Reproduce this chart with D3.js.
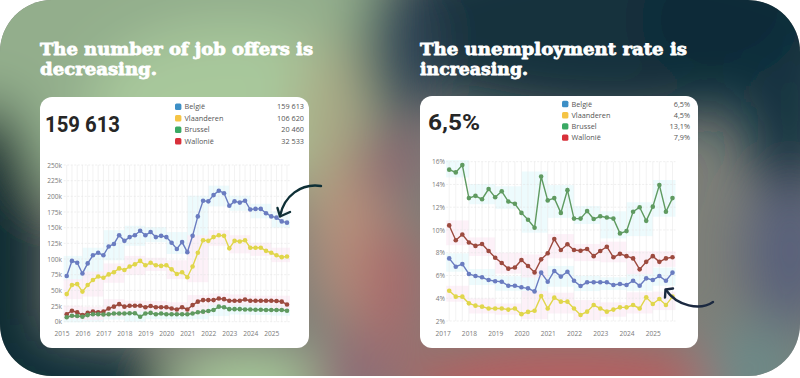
<!DOCTYPE html>
<html><head><meta charset="utf-8">
<script src="https://cdn.jsdelivr.net/npm/d3@7"></script>
<style>html,body{margin:0;padding:0;background:#fff;overflow:hidden}svg{display:block}</style>
</head><body>
<svg id="c" width="800" height="378"></svg>
<script>
// ---------- DATA ----------
const jobQuarters = ["2015Q2","2015Q3","2015Q4","2016Q1","2016Q2","2016Q3","2016Q4","2017Q1","2017Q2","2017Q3","2017Q4",
 "2018Q1","2018Q2","2018Q3","2018Q4","2019Q1","2019Q2","2019Q3","2019Q4","2020Q1","2020Q2","2020Q3","2020Q4",
 "2021Q1","2021Q2","2021Q3","2021Q4","2022Q1","2022Q2","2022Q3","2022Q4","2023Q1","2023Q2","2023Q3","2023Q4",
 "2024Q1","2024Q2","2024Q3","2024Q4","2025Q1","2025Q2","2025Q3","2025Q4"];
const jobBelgie = [73,97,94,77,93,106,110,106,120,124,138,129,135,138,145,138,143,135,137,135,126,116,127,111,137,168,193,192,202,209,205,185,192,190,193,179,180,180,173,168,166,160,158];
const jobVlaanderen = [44,58.5,60,48,58.5,66.5,72,70,75.5,79,85,82.5,88,91.5,97,90,94,90,89,90,83.5,76,79,71,88,110,130,129,135,138,137,117,129,128,130,118,118,118,113,110,106,103,104];
const jobBrussel = [7,9.5,9,8,10.5,12,12,11.5,12,13,13,13,13.5,13.5,8,13,14,12,13,12,12,12,12,12,13,15,16,17,18.6,24,23,20,20,20,19.5,19.5,19,19,18.6,18.6,18.6,18.6,17.5];
const jobWallonie = [12,17.5,15,10.5,14,16,15,16,21,24,28,24,25.5,25.5,25.5,23,25,23,23,23,21,19.5,23,19.5,26.5,32,34.5,34.5,34.5,37,36,33.5,33.5,33.5,35.5,33.5,33.5,33.5,33.5,33.5,33,32,27.5];
const jobTicks = [0,25,50,75,100,125,150,175,200,225,250];
const jobYears = [2015,2016,2017,2018,2019,2020,2021,2022,2023,2024,2025];

const unQuarters = ["2017Q2","2017Q3","2017Q4","2018Q1","2018Q2","2018Q3","2018Q4","2019Q1","2019Q2","2019Q3","2019Q4",
 "2020Q1","2020Q2","2020Q3","2020Q4","2021Q1","2021Q2","2021Q3","2021Q4","2022Q1","2022Q2","2022Q3","2022Q4",
 "2023Q1","2023Q2","2023Q3","2023Q4","2024Q1","2024Q2","2024Q3","2024Q4","2025Q1","2025Q2","2025Q3","2025Q4"];
const unBelgie = [7.5,6.77,7.0,6.13,5.95,5.84,5.6,5.5,5.45,5.1,5.1,4.96,4.87,4.6,6.25,5.45,6.4,5.9,6.33,5.54,5.07,5.4,5.4,5.4,5.4,5.16,5.25,5.16,5.54,5.1,5.75,5.6,5.95,5.54,6.25];
const unVlaanderen = [4.66,4.14,4.14,3.55,3.35,3.26,3.1,3.1,3.1,3.0,3.1,2.6,2.8,2.9,4.2,3.1,4.05,3.7,3.7,3.1,2.53,2.82,3.4,3.1,2.82,3.0,3.2,3.2,3.4,3.1,4.08,3.5,3.93,3.4,4.14];
const unBrussel = [15.3,15.06,15.7,12.8,13.0,12.7,13.6,12.87,13.4,12.5,12.3,11.5,10.9,10.2,14.7,12.6,12.8,11.5,13.5,11.0,11.0,11.66,10.96,11.2,11.1,11.0,9.7,9.9,11.6,12.0,10.8,12.05,13.95,11.6,12.8];
const unWallonie = [10.4,9.1,9.6,8.9,8.6,8.77,8.15,7.56,7.1,6.6,6.7,7.36,6.83,6.27,7.42,7.95,9.2,8.24,8.74,8.24,8.18,8.33,7.7,8.15,8.53,7.6,7.9,7.7,7.5,6.54,7.2,7.7,7.2,7.5,7.6];
const unTicks = [2,4,6,8,10,12,14,16];
const unYears = [2017,2018,2019,2020,2021,2022,2023,2024,2025];

const regions = ["België","Vlaanderen","Brussel","Wallonië"];
const jobLegendValues = ["159 613","106 620","20 460","32 533"];
const unLegendValues = ["6,5%","4,5%","13,1%","7,9%"];
const jobHeadline = "159 613";
const unHeadline = "6,5%";
const titles = [["The number of job offers is","decreasing."],["The unemployment rate is","increasing."]];

// ---------- STYLE ----------
const legendColors = ["#3d8fc6","#f5c445","#3aa964","#d8303a"];
const lineColors = ["#6a7cc0","#e0d64a","#5f9a60","#9c4a3e"];
const bandColors = ["#e9fafc","#fdeef6","#e9fafc","#fdeef6"];

const svg = d3.select("#c");
const defs = svg.append("defs");

// background shape
defs.append("clipPath").attr("id","bgclip").append("rect")
  .attr("x",0).attr("y",0).attr("width",800).attr("height",376).attr("rx",52).attr("ry",52);
defs.append("filter").attr("id","blur").attr("x","-50%").attr("y","-50%").attr("width","200%").attr("height","200%")
  .append("feGaussianBlur").attr("stdDeviation",26);

const bg = svg.append("g").attr("clip-path","url(#bgclip)");
bg.append("rect").attr("width",800).attr("height",378).attr("fill","#7d7f78");
const blobs = [
  [140,50,290,150,"#93ae8c"],
  [230,105,140,80,"#a8c89b"],
  [330,150,35,110,"#aaa884"],
  [352,245,38,80,"#b8907c"],
  [620,25,250,95,"#12303d"],
  [398,50,35,80,"#34485a"],
  [388,160,30,35,"#8a5f6e"],
  [392,290,35,70,"#a86a6c"],
  [-15,270,60,170,"#0c2933"],
  [60,385,115,45,"#0f2d38"],
  [250,385,85,35,"#a8cc9a"],
  [350,380,40,40,"#8f6a76"],
  [570,385,170,45,"#b55e60"],
  [750,370,50,45,"#6c8a88"],
  [790,250,45,80,"#58607a"],
  [790,110,50,80,"#163442"],
  [720,20,80,60,"#0e2c38"]
];
const bgb = bg.append("g").attr("filter","url(#blur)");
blobs.forEach(b => bgb.append("ellipse").attr("cx",b[0]).attr("cy",b[1]).attr("rx",b[2]).attr("ry",b[3]).attr("fill",b[4]));

// titles
const titleFont = "'DejaVu Serif',serif";
const titleLayout = [{x:40, w:[273,117]},{x:420, w:[267,108]}];
titles.forEach((t,i) => {
  t.forEach((line,j) => {
    svg.append("text").attr("x",titleLayout[i].x).attr("y",55+j*19.8)
      .attr("font-family",titleFont).attr("font-weight",700).attr("font-size",17)
      .attr("fill","#ffffff").attr("stroke","#ffffff").attr("stroke-width",0.8).attr("stroke-linejoin","round")
      .attr("textLength",titleLayout[i].w[j]).attr("lengthAdjust","spacingAndGlyphs")
      .text(line);
  });
});

function qToYear(q){ return +q.slice(0,4) + (+q.slice(5)-1)/4; }

function drawCard(cfg){
  const g = svg.append("g");
  g.append("rect").attr("x",cfg.card[0]).attr("y",cfg.card[1]).attr("width",cfg.card[2]).attr("height",cfg.card[3])
    .attr("rx",12).attr("fill","#ffffff");
  // headline
  g.append("text").attr("x",cfg.head[0]).attr("y",cfg.head[1]).attr("font-family","Roboto, sans-serif")
    .attr("font-weight",700).attr("font-size",22.5).attr("fill","#262626")
    .attr("textLength",cfg.head[2]).attr("lengthAdjust","spacingAndGlyphs").text(cfg.headline);
  // legend
  regions.forEach((r,i)=>{
    const y = cfg.leg[1] + i*cfg.leg[3];
    g.append("rect").attr("x",cfg.leg[0]).attr("y",y-3.2).attr("width",6.4).attr("height",6.4).attr("rx",1.5).attr("fill",legendColors[i]);
    g.append("text").attr("x",cfg.leg[0]+9.5).attr("y",y+2.5).attr("font-family","'Open Sans',sans-serif")
      .attr("font-size",7.3).attr("fill","#555").text(r);
    g.append("text").attr("x",cfg.leg[2]).attr("y",y+2.5).attr("text-anchor","end").attr("font-family","'Open Sans',sans-serif")
      .attr("font-size",7.3).attr("fill","#555").text(cfg.legVals[i]);
  });
  const x = d3.scaleLinear().domain(cfg.xDom).range(cfg.xRange);
  const y = d3.scaleLinear().domain(cfg.yDom).range(cfg.yRange);
  const xs = cfg.quarters.map(qToYear);
  const x0 = x(xs[0]) - 3, x1 = x(xs[xs.length-1]) + 3;
  // bands
  const bandG = g.append("g");
  cfg.series.forEach((s,si)=>{
    const years = Array.from(new Set(xs.map(Math.floor)));
    years.forEach(yr=>{
      const vals = s.filter((v,k)=>Math.floor(xs[k])===yr);
      if(!vals.length) return;
      const lo = d3.min(vals), hi = d3.max(vals);
      const bx0 = Math.max(x0, x(yr)), bx1 = Math.min(x1, x(yr+1));
      bandG.append("rect").attr("x",bx0).attr("width",bx1-bx0)
        .attr("y",y(hi)-5).attr("height",y(lo)-y(hi)+10).attr("fill",bandColors[si]).attr("opacity",0.8);
    });
  });
  // grid
  const grid = g.append("g");
  xs.forEach(v=>grid.append("line").attr("x1",x(v)).attr("x2",x(v)).attr("y1",y(cfg.yDom[1])).attr("y2",y(cfg.yDom[0]))
    .attr("stroke","#e9e9e9").attr("stroke-width",0.6));
  cfg.yTicks.forEach(v=>grid.append("line").attr("x1",x0).attr("x2",x1).attr("y1",y(v)).attr("y2",y(v))
    .attr("stroke","#e4e4e4").attr("stroke-width",0.6).attr("stroke-dasharray","2,1.5"));
  // axes
  const yAxis = d3.axisLeft(y).tickValues(cfg.yTicks).tickFormat(cfg.yFmt).tickSize(0).tickPadding(0);
  const ya = g.append("g").attr("transform",`translate(${cfg.yLabelX},0)`).call(yAxis);
  const xAxis = d3.axisBottom(x).tickValues(cfg.years).tickFormat(d3.format("d")).tickSize(0).tickPadding(0);
  const xa = g.append("g").attr("transform",`translate(0,${cfg.xLabelY})`).call(xAxis);
  [ya,xa].forEach(a=>{
    a.select(".domain").remove();
    a.selectAll("text").attr("font-family","'Open Sans',sans-serif").attr("font-size",6.6).attr("fill","#7a7a7a");
  });
  // lines
  const line = d3.line().x((d,k)=>x(xs[k])).y(d=>y(d));
  const order = [3,2,1,0];
  order.forEach(si=>{
    const s = cfg.series[si];
    g.append("path").datum(s).attr("d",line).attr("fill","none").attr("stroke",lineColors[si]).attr("stroke-width",1.4);
    g.append("g").selectAll("circle").data(s).join("circle")
      .attr("cx",(d,k)=>x(xs[k])).attr("cy",d=>y(d)).attr("r",2.3).attr("fill",lineColors[si]);
  });
}

drawCard({
  card:[40,97,269,251], head:[45,131.5,75], headline:jobHeadline,
  leg:[175,106.7,304,11.5], legVals:jobLegendValues,
  quarters:jobQuarters, series:[jobBelgie,jobVlaanderen,jobBrussel,jobWallonie],
  xDom:[2015.25,2025.75], xRange:[66.7,287],
  yDom:[0,250], yRange:[321.7,165], yTicks:jobTicks, yFmt:d=>d+"k",
  years:jobYears, yLabelX:62, xLabelY:331
});
drawCard({
  card:[420,96,278,252], head:[428,129.5,52], headline:unHeadline,
  leg:[562,104,690,11.2], legVals:unLegendValues,
  quarters:unQuarters, series:[unBelgie,unVlaanderen,unBrussel,unWallonie],
  xDom:[2017.25,2025.75], xRange:[449.2,672.5],
  yDom:[2,16], yRange:[321,161.7], yTicks:unTicks, yFmt:d=>d+"%",
  years:unYears, yLabelX:445, xLabelY:331
});

// arrows
const arrows = [
  {d:"M321,186 C301,183 284,196 280,216", head:"M277.5,208 L280,216.5 L290,212", c:"#0e2f36"},
  {d:"M713,302 C700,311 677,306 666,290", head:"M665,297.5 L665.5,289.5 L673,288.5", c:"#1b2940"}
];
arrows.forEach(a=>{
  svg.append("path").attr("d",a.d).attr("fill","none").attr("stroke",a.c).attr("stroke-width",2.4).attr("stroke-linecap","round");
  svg.append("path").attr("d",a.head).attr("fill","none").attr("stroke",a.c).attr("stroke-width",2.4).attr("stroke-linecap","round").attr("stroke-linejoin","round");
});
</script>
</body></html>
